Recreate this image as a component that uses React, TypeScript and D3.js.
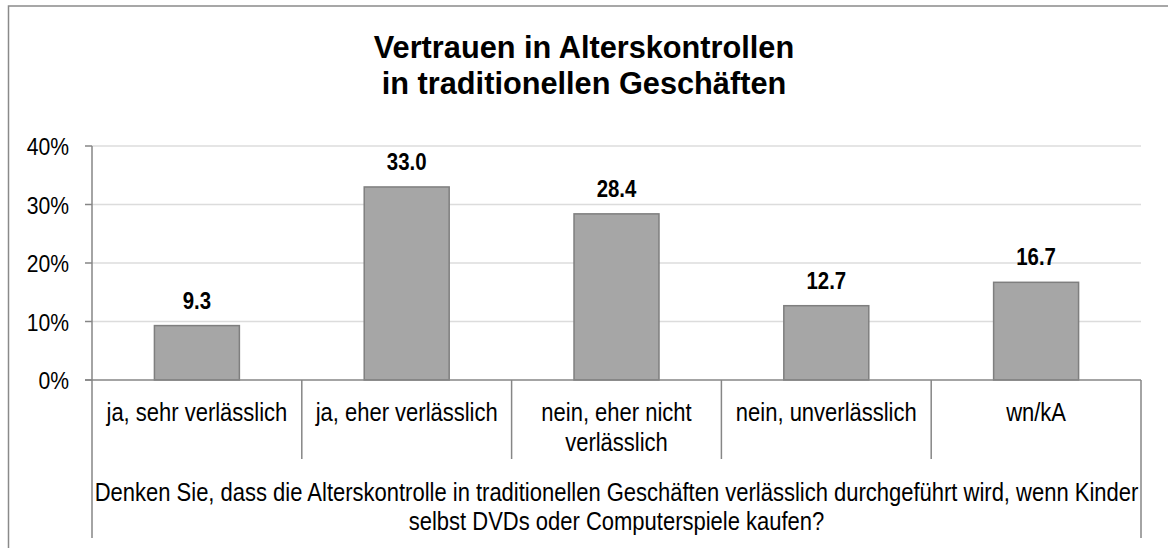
import React from "react";
import * as d3 from "d3";

// data
const categories = ["ja, sehr verlässlich", "ja, eher verlässlich", "nein, eher nicht verlässlich", "nein, unverlässlich", "wn/kA"];
const categoryLines = [["ja, sehr verlässlich"], ["ja, eher verlässlich"], ["nein, eher nicht", "verlässlich"], ["nein, unverlässlich"], ["wn/kA"]];
const values = [9.3, 33.0, 28.4, 12.7, 16.7];
const yTicks = [0, 10, 20, 30, 40];
const titleLines = ["Vertrauen in Alterskontrollen", "in traditionellen Geschäften"];
const questionLines = [
  "Denken Sie, dass die Alterskontrolle in traditionellen Geschäften verlässlich durchgeführt wird, wenn Kinder",
  "selbst DVDs oder Computerspiele kaufen?",
];

const W = 1168, H = 548;
const margin = { top: 146, right: 27, bottom: 168, left: 92 };
const SX = 0.88; // text in the reference is slightly condensed
const FONT = "'Liberation Sans', Arial, sans-serif";
const axisColor = "#868686";

function T({ x, y, size, anchor = "middle", weight = "normal", sx = SX, children }: any) {
  return (
    <text
      transform={`translate(${x},${y}) scale(${sx},1)`}
      textAnchor={anchor}
      fontSize={size}
      fontWeight={weight}
      fontFamily={FONT}
      fill="#000"
    >
      {children}
    </text>
  );
}

export default function App() {
  const x0 = margin.left, x1 = W - margin.right;
  const y0 = H - margin.bottom, y1 = margin.top;

  const x = d3.scaleBand<string>().domain(categories).range([x0, x1]).paddingInner(0.595).paddingOuter(0.2975);
  const xb = d3.scaleBand<string>().domain(categories).range([x0, x1]);
  const y = d3.scaleLinear().domain([0, 40]).range([y0, y1]);

  return (
    <svg width={W} height={H} style={{ position: "absolute", left: 0, top: 0, background: "#fff" }}>
      <rect x={8.5} y={6} width={1200} height={600} fill="#fff" stroke="#8a8a8a" strokeWidth={1.5} />

      {titleLines.map((t, i) => (
        <T key={t} x={584} y={58 + i * 36} size={32} sx={0.96} weight="bold">{t}</T>
      ))}

      {/* gridlines */}
      {yTicks.filter(t => t > 0).map(t => (
        <line key={t} x1={x0} x2={x1} y1={y(t)} y2={y(t)} stroke="#dcdcdc" strokeWidth={1.5} />
      ))}

      {/* y axis */}
      <line x1={x0} x2={x0} y1={y1} y2={y0} stroke={axisColor} strokeWidth={1.5} />
      {yTicks.map(t => (
        <g key={t}>
          <line x1={x0 - 7} x2={x0} y1={y(t)} y2={y(t)} stroke={axisColor} strokeWidth={1.5} />
          <T x={69} y={y(t) + 9} size={24} anchor="end">{t + "%"}</T>
        </g>
      ))}

      {/* bars */}
      {categories.map((c, i) => (
        <g key={c}>
          <rect x={x(c)} y={y(values[i])} width={x.bandwidth()} height={y0 - y(values[i])} fill="#a6a6a6" stroke="#7f7f7f" strokeWidth={1.5} />
          <T x={x(c)! + x.bandwidth() / 2} y={y(values[i]) - 17} size={24} sx={0.85} weight="bold">{values[i].toFixed(1)}</T>
        </g>
      ))}

      {/* x axis and category separators */}
      <line x1={x0 - 7} x2={x1} y1={y0} y2={y0} stroke={axisColor} strokeWidth={1.5} />
      {categories.slice(1).map(c => (
        <line key={c} x1={xb(c)} x2={xb(c)} y1={y0} y2={y0 + 79} stroke={axisColor} strokeWidth={1.5} />
      ))}
      <line x1={x0} x2={x0} y1={y0} y2={y0 + 158} stroke={axisColor} strokeWidth={1.5} />
      <line x1={x1} x2={x1} y1={y0} y2={y0 + 158} stroke={axisColor} strokeWidth={1.5} />

      {categories.map((c, i) =>
        categoryLines[i].map((l, j) => (
          <T key={c + j} x={xb(c)! + xb.bandwidth() / 2} y={421 + j * 30} size={25}>{l}</T>
        ))
      )}

      {questionLines.map((q, i) => (
        <T key={i} x={(x0 + x1) / 2} y={501 + i * 29} size={25}>{q}</T>
      ))}
    </svg>
  );
}
